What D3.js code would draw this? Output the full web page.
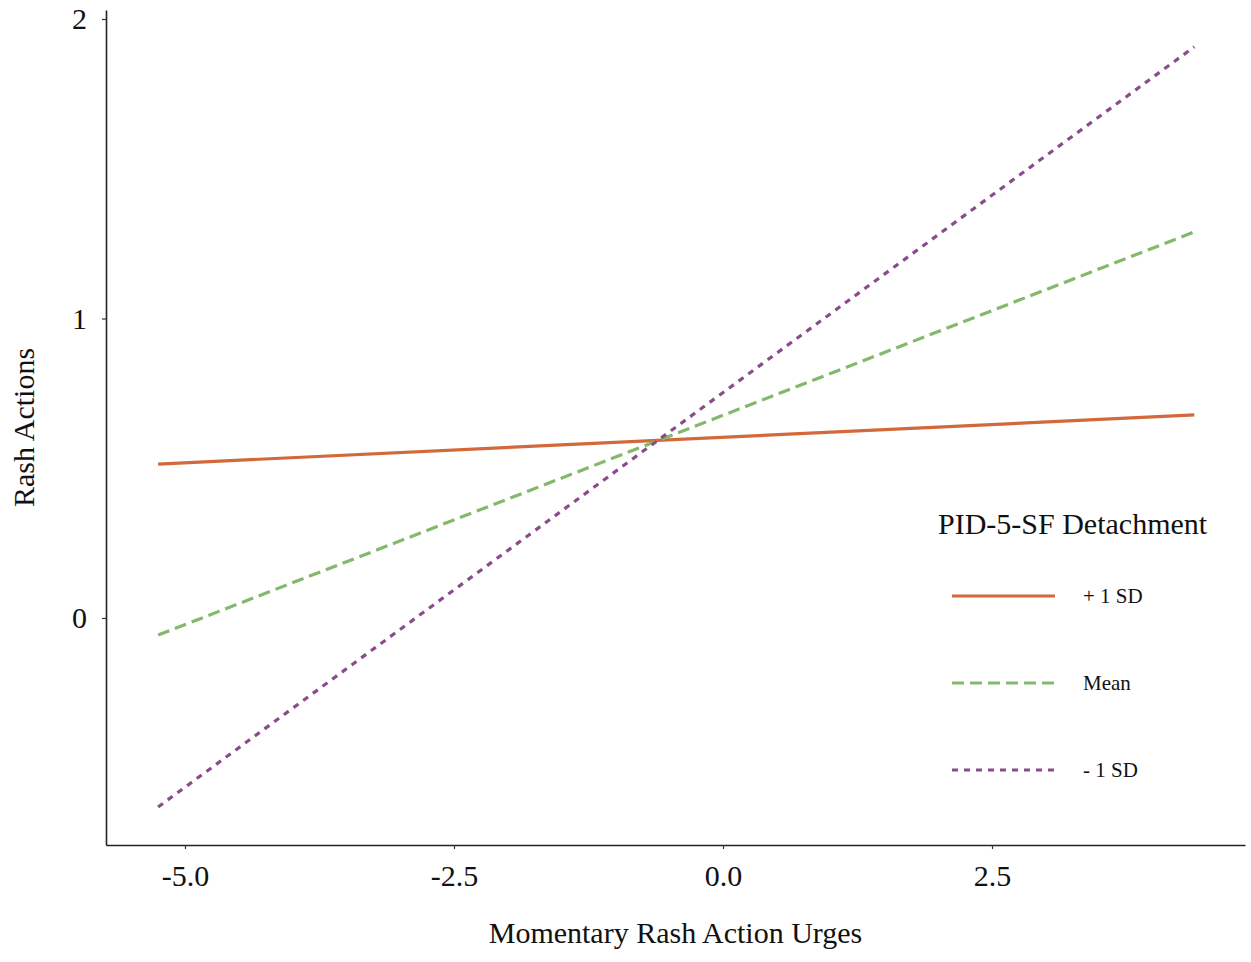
<!DOCTYPE html>
<html><head><meta charset="utf-8">
<script src="https://cdn.jsdelivr.net/npm/d3@7"></script>
<style>body{margin:0;background:#fff}svg{display:block}text{font-family:"Liberation Serif","Times New Roman",serif;fill:#111}</style>
</head><body><svg id="c" width="1251" height="962"></svg>
<script>
const xRange = [-5.25, 4.38];
const seriesNames = ["+ 1 SD", "Mean", "- 1 SD"];
const seriesStart = [0.514, -0.057, -0.631];
const seriesEnd = [0.678, 1.289, 1.907];
const seriesColors = ["#d2693a", "#84b86c", "#8a4b8c"];
const seriesDash = [null, "12,6", "6,6"];
const xTicks = [-5.0, -2.5, 0.0, 2.5];
const yTicks = [0, 1, 2];
const legendTitle = "PID-5-SF Detachment";
const xTitle = "Momentary Rash Action Urges";
const yTitle = "Rash Actions";

const svg = d3.select("#c");
const L = 106, R = 1245, T = 10, B = 845;
const x = d3.scaleLinear().domain([-5.734, 4.851]).range([L, R]);
const y = d3.scaleLinear().domain([-0.758, 2.03]).range([B, T]);

// axes
const xa = svg.append("g").attr("transform", `translate(0,${B})`)
  .call(d3.axisBottom(x).tickValues(xTicks).tickFormat(d => d.toFixed(1)).tickSize(4).tickSizeOuter(0));
const ya = svg.append("g").attr("transform", `translate(${L},0)`)
  .call(d3.axisLeft(y).tickValues(yTicks).tickFormat(d => String(d)).tickSize(4).tickSizeOuter(0));
[xa, ya].forEach(a => {
  a.select(".domain").attr("stroke", "#222").attr("stroke-width", 1.6);
  a.selectAll(".tick line").attr("stroke", "#333").attr("stroke-width", 1.2);
  a.selectAll(".tick text").attr("font-size", 30).attr("font-family", "Liberation Serif").attr("fill", "#111");
});
xa.selectAll(".tick text").attr("dy", "0.71em").attr("y", 20);
ya.selectAll(".tick text").attr("x", -19);

// lines
const line = d3.line().x(d => x(d[0])).y(d => y(d[1]));
seriesNames.forEach((n, i) => {
  svg.append("path")
    .attr("d", line([[xRange[0], seriesStart[i]], [xRange[1], seriesEnd[i]]]))
    .attr("fill", "none").attr("stroke", seriesColors[i]).attr("stroke-width", 3.2)
    .attr("stroke-dasharray", seriesDash[i]);
});

// axis titles
svg.append("text").attr("x", (L + R) / 2).attr("y", 943).attr("text-anchor", "middle")
  .attr("font-size", 30).text(xTitle);
svg.append("text").attr("transform", `translate(34,${(T + B) / 2}) rotate(-90)`).attr("text-anchor", "middle")
  .attr("font-size", 30).text(yTitle);

// legend
svg.append("text").attr("x", 938).attr("y", 534).attr("font-size", 30).text(legendTitle);
seriesNames.forEach((n, i) => {
  const ly = 596 + i * 87;
  svg.append("line").attr("x1", 952).attr("x2", 1055).attr("y1", ly).attr("y2", ly)
    .attr("stroke", seriesColors[i]).attr("stroke-width", 3.2).attr("stroke-dasharray", seriesDash[i]);
  svg.append("text").attr("x", 1083).attr("y", ly + 7).attr("font-size", 21).text(n);
});
</script></body></html>
